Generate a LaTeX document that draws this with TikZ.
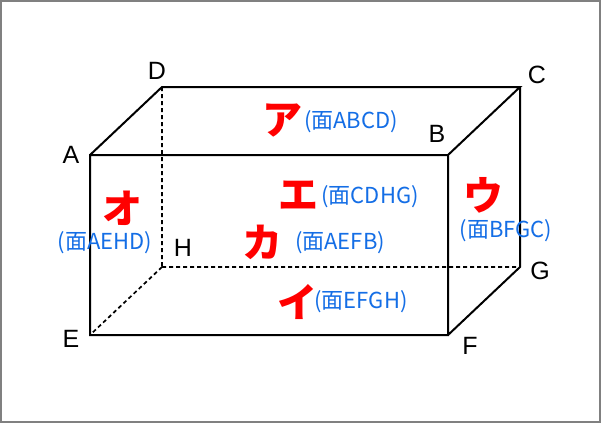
\documentclass[tikz,border=0pt]{standalone}
\usepackage{fontspec}
\setmainfont{Liberation Sans}
\newfontfamily\jp{Noto Sans CJK JP}
\begin{document}
\begin{tikzpicture}[x=1pt,y=-1pt,
 edge/.style={line width=2pt},
 hid/.style={line width=1.7pt,dash pattern=on 4pt off 3pt},
 lbl/.style={font=\fontsize{25}{25}\selectfont},
 kana/.style={text=red,font=\jp\bfseries\fontsize{40}{40}\selectfont},
 face/.style={text={rgb,255:red,20;green,110;blue,230},font=\jp\fontsize{22}{22}\selectfont}]
\useasboundingbox (0,0) rectangle (601,423);
\fill[white] (0,0) rectangle (601,423);
\draw[gray,line width=1.3pt] (1,1) rectangle (600,422);
\coordinate (A) at (90,155); \coordinate (B) at (448,155);
\coordinate (C) at (520,87); \coordinate (D) at (162,87);
\coordinate (E) at (90,335); \coordinate (F) at (448,335);
\coordinate (G) at (520,267); \coordinate (H) at (162,267);
\draw[hid] (D)--(H) (H)--(G) (H)--(E);
\draw[edge,line join=miter] (A)--(B)--(F)--(E)--cycle (A)--(D)--(C)--(B) (C)--(G)--(F);
\node[lbl] (lA) at (71,155) {A}; \node[lbl] (lB) at (437,134) {B};
\node[lbl] (lC) at (537,75) {C}; \node[lbl] (lD) at (157,71) {D};
\node[lbl] (lE) at (71,339) {E}; \node[lbl] (lF) at (470,346) {F};
\node[lbl] (lG) at (540,271) {G}; \node[lbl] (lH) at (183,248) {H};
\node[kana] (k1) at (282,120) {ア}; \node[face] (f1) at (351,122) {(面ABCD)};
\node[kana] (k2) at (298,195) {エ}; \node[face] (f2) at (370,197) {(面CDHG)};
\node[kana] (k3) at (122,208) {オ}; \node[face] (f3) at (105,243) {(面AEHD)};
\node[kana] (k4) at (483,195) {ウ}; \node[face] (f4) at (506,231) {(面BFGC)};
\node[kana] (k5) at (262,242) {カ}; \node[face] (f5) at (340,243) {(面AEFB)};
\node[kana] (k6) at (297,302) {イ}; \node[face] (f6) at (361,302) {(面EFGH)};
\end{tikzpicture}
\end{document}
